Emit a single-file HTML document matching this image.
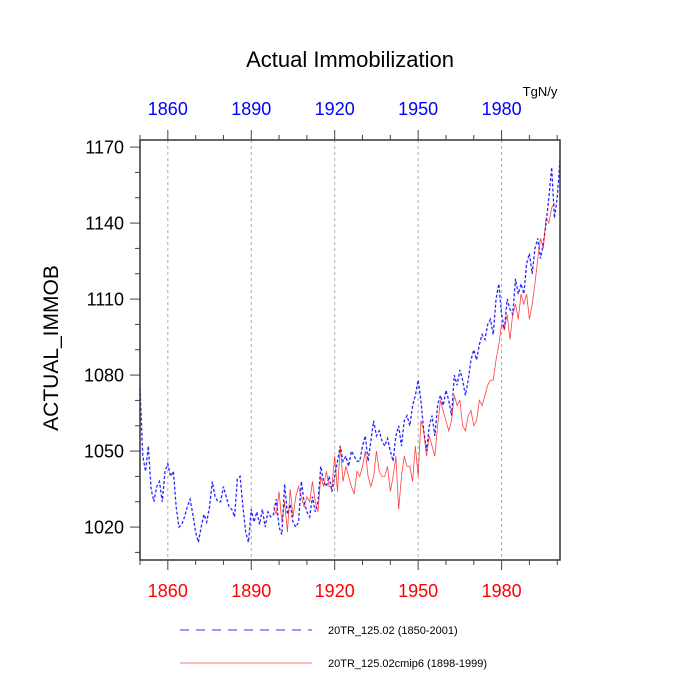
<!DOCTYPE html>
<html><head><meta charset="utf-8"><style>
body{margin:0;background:#fff;}
svg{display:block;font-family:"Liberation Sans",sans-serif;}
</style></head><body>
<svg id="chart" width="700" height="700" xmlns="http://www.w3.org/2000/svg">
<text x="350" y="67" font-size="22" text-anchor="middle">Actual Immobilization</text>
<text x="540" y="96" font-size="13" text-anchor="middle">TgN/y</text>
<text transform="translate(58,348) rotate(-90)" font-size="21" text-anchor="middle">ACTUAL_IMMOB</text>
<g id="grid"></g><g id="series"></g><g id="axes"></g>
<g>
<line x1="180" y1="630" x2="312" y2="630" stroke="#0000ff" stroke-width="1" stroke-opacity="0.8" stroke-dasharray="9,7"/>
<text x="328" y="634" font-size="11">20TR_125.02 (1850-2001)</text>
<line x1="180" y1="663" x2="312" y2="663" stroke="#ff0000" stroke-width="0.8" stroke-opacity="0.7"/>
<text x="328" y="667" font-size="11">20TR_125.02cmip6 (1898-1999)</text>
</g>
</svg>
<script>
const blueValues=[1075,1048,1042,1052,1035,1030,1036,1038,1030,1042,1045,1040,1042,1028,1020,1021,1024,1028,1031,1025,1018,1014,1020,1025,1022,1028,1038,1032,1030,1030,1036,1032,1028,1027,1024,1039,1040,1028,1018,1014,1027,1022,1026,1021,1027,1020,1026,1024,1025,1031,1020,1017,1037,1025,1029,1022,1020,1022,1038,1030,1026,1024,1032,1026,1030,1044,1038,1036,1040,1034,1040,1046,1052,1046,1048,1044,1050,1048,1046,1046,1052,1056,1046,1054,1062,1056,1058,1054,1052,1055,1050,1046,1056,1060,1052,1062,1064,1060,1068,1072,1078,1070,1058,1050,1060,1064,1056,1068,1072,1068,1074,1070,1064,1080,1076,1082,1078,1072,1078,1086,1090,1086,1092,1096,1094,1100,1102,1096,1110,1116,1104,1098,1110,1106,1104,1118,1112,1116,1112,1124,1128,1120,1130,1134,1126,1132,1140,1150,1162,1142,1150,1165];
const blueStart=1850;
const redValues=[1028,1025,1034,1022,1030,1018,1035,1024,1032,1036,1032,1028,1032,1030,1038,1030,1026,1040,1036,1042,1036,1036,1048,1034,1052,1038,1044,1040,1036,1033,1042,1040,1044,1050,1040,1036,1040,1050,1042,1040,1040,1044,1034,1040,1048,1027,1040,1048,1044,1044,1038,1052,1040,1062,1058,1048,1056,1052,1048,1060,1070,1066,1062,1058,1062,1072,1068,1070,1060,1058,1064,1066,1060,1062,1070,1068,1072,1076,1078,1078,1086,1092,1100,1098,1104,1094,1104,1108,1102,1112,1108,1112,1102,1108,1116,1126,1134,1130,1142,1140,1146,1148];
const redStart=1898;
const xTicks=[1860,1890,1920,1950,1980];
const yTicks=[1020,1050,1080,1110,1140,1170];
const L=140,R=560,T=140,B=560,X0=1850,X1=2001,Y0=1007,Y1=1172.8;
const xs=v=>L+(v-X0)/(X1-X0)*(R-L);
const ys=v=>B-(v-Y0)/(Y1-Y0)*(B-T);
const NS="http://www.w3.org/2000/svg";
function mk(tag,attrs,parent){const e=document.createElementNS(NS,tag);for(const k in attrs)e.setAttribute(k,attrs[k]);parent.appendChild(e);return e;}
const grid=document.getElementById('grid'),series=document.getElementById('series'),axes=document.getElementById('axes');
xTicks.forEach(t=>{const g=mk('line',{x1:xs(t),x2:xs(t),y1:T,y2:B,stroke:'#aaa','stroke-width':1,'stroke-dasharray':'3,3'},grid);

});
function path(vals,start){return vals.map((v,i)=>(i?'L':'M')+xs(start+i).toFixed(2)+','+ys(v).toFixed(2)).join('');}
const bp=mk('path',{d:path(blueValues,blueStart),fill:'none',stroke:'#0000ff','stroke-width':1.3,'stroke-opacity':0.85,'stroke-dasharray':'3,2'},series);


const rp=mk('path',{d:path(redValues,redStart),fill:'none',stroke:'#ff0000','stroke-width':0.8,'stroke-opacity':0.75},series);


const fr=mk('rect',{x:L,y:T,width:R-L,height:B-T,fill:'none',stroke:'#333','stroke-width':1.5},axes);


for(let y=1850;y<=2000;y+=10){const maj=xTicks.includes(y);const len=maj?10:5;
mk('line',{x1:xs(y),x2:xs(y),y1:B,y2:B+len,stroke:'#444'},axes);
mk('line',{x1:xs(y),x2:xs(y),y1:T,y2:T-len,stroke:'#444'},axes);}
for(let v=1010;v<=1170;v+=10){const maj=yTicks.includes(v);const len=maj?10:5;
mk('line',{x1:L,x2:L-len,y1:ys(v),y2:ys(v),stroke:'#444'},axes);}
xTicks.forEach(t=>{
const a=mk('text',{x:xs(t),y:597,'font-size':18,'text-anchor':'middle',fill:'#ff0000'},axes);a.textContent=t;


const b=mk('text',{x:xs(t),y:115,'font-size':18,'text-anchor':'middle',fill:'#0000ff'},axes);b.textContent=t;

});
yTicks.forEach(t=>{const a=mk('text',{x:L-16,y:ys(t)+6.5,'font-size':18,'text-anchor':'end'},axes);a.textContent=t;

});
</script>
</body></html>
